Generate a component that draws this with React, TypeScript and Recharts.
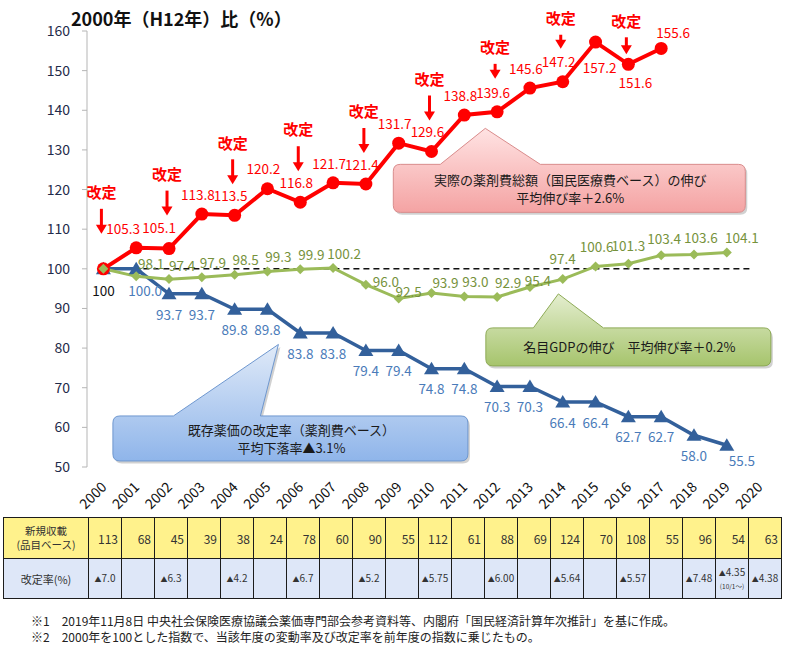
import React from "react";
import { LineChart, Line, XAxis, YAxis, ReferenceLine, ReferenceDot } from "recharts";

// 2000 = 100 index values
const years = [2000, 2001, 2002, 2003, 2004, 2005, 2006, 2007, 2008, 2009, 2010, 2011, 2012, 2013, 2014, 2015, 2016, 2017, 2018, 2019, 2020];
const drugCost = [100, 105.3, 105.1, 113.8, 113.5, 120.2, 116.8, 121.7, 121.4, 131.7, 129.6, 138.8, 139.6, 145.6, 147.2, 157.2, 151.6, 155.6, null, null, null];
const priceIndex = [100, 100.0, 93.7, 93.7, 89.8, 89.8, 83.8, 83.8, 79.4, 79.4, 74.8, 74.8, 70.3, 70.3, 66.4, 66.4, 62.7, 62.7, 58.0, 55.5, null];
const nominalGdp = [100, 98.1, 97.4, 97.9, 98.5, 99.3, 99.9, 100.2, 96.0, 92.5, 93.9, 93.0, 92.9, 95.4, 97.4, 100.6, 101.3, 103.4, 103.6, 104.1, null];
const revisionYears = [2000, 2002, 2004, 2006, 2008, 2010, 2012, 2014, 2016];
const newListings = [113, 68, 45, 39, 38, 24, 78, 60, 90, 55, 112, 61, 88, 69, 124, 70, 108, 55, 96, 54, 63];
const revisionRates = ["7.0", "", "6.3", "", "4.2", "", "6.7", "", "5.2", "", "5.75", "", "6.00", "", "5.64", "", "5.57", "", "7.48", "4.35", "4.38"];
const yTicks = [50, 60, 70, 80, 90, 100, 110, 120, 130, 140, 150, 160];

const data = years.map((year, i) => ({ year, drug: drugCost[i], price: priceIndex[i], gdp: nominalGdp[i] }));
const bandEdges = [...years.map((y) => y - 0.5), years[years.length - 1] + 0.5];

const FONT = '"Noto Sans CJK JP", "Noto Sans", sans-serif';
const RED = "#FF0000";
const BLUE = "#33609B";
const BLUE_TXT = "#4A7BB9";
const GREEN = "#9BBB59";
const GREEN_TXT = "#76923C";

type Off = [number, number];
// label nudges (px) where the original places them off the default spot
const redOff: Record<number, Off> = { 2001: [-13, -19], 2002: [-10, -20], 2015: [4, 26], 2016: [7, 19], 2017: [12, -15] };
const blueOff: Record<number, Off> = { 2000: [0, 22], 2001: [9, 22], 2019: [15, 16] };
const greenOff: Record<number, Off> = {
  2001: [15, -12], 2002: [13, -13], 2008: [20, -2], 2009: [10, -6], 2010: [14, -10], 2013: [8, -6],
  2014: [0, -20], 2015: [1, -19], 2016: [0, -17], 2017: [3, -16], 2018: [7, -16], 2019: [15, -14],
};
const arrowStyle: Record<number, { gap: number; len: number }> = {
  2000: { gap: 35, len: 25 }, 2002: { gap: 33, len: 25 }, 2012: { gap: 33, len: 15 },
  2014: { gap: 33, len: 14 }, 2016: { gap: 10, len: 17 },
};

const fmt = (v: number) => v.toFixed(1);

const label = (x: number, y: number, text: string, color: string) => (
  <text x={x} y={y} dy="0.35em" textAnchor="middle" fontSize={13.5} fill={color} fontFamily={FONT}>
    {text}
  </text>
);

const RedDot = (p: any) => {
  const { cx, cy, index, payload } = p;
  if (cx == null || cy == null || payload?.drug == null) return <g key={`r${index}`} />;
  const o = redOff[payload.year] ?? [-4, -19];
  return (
    <g key={`r${index}`}>
      <circle cx={cx} cy={cy} r={6.5} fill={RED} />
      {payload.year !== 2000 && label(cx + o[0], cy + o[1], fmt(payload.drug), RED)}
    </g>
  );
};

const BlueDot = (p: any) => {
  const { cx, cy, index, payload } = p;
  if (cx == null || cy == null || payload?.price == null) return <g key={`b${index}`} />;
  const o = blueOff[payload.year] ?? [0, 21];
  const first = payload.year === 2000;
  return (
    <g key={`b${index}`}>
      <polygon points={`${cx},${cy - 7} ${cx - 7.5},${cy + 5.5} ${cx + 7.5},${cy + 5.5}`} fill={BLUE} />
      {label(cx + o[0], cy + o[1], first ? "100" : fmt(payload.price), first ? "#111" : BLUE_TXT)}
    </g>
  );
};

const GreenDot = (p: any) => {
  const { cx, cy, index, payload } = p;
  if (cx == null || cy == null || payload?.gdp == null) return <g key={`g${index}`} />;
  const o = greenOff[payload.year] ?? [11, -14];
  return (
    <g key={`g${index}`}>
      <polygon points={`${cx},${cy - 5} ${cx + 5},${cy} ${cx},${cy + 5} ${cx - 5},${cy}`} fill={GREEN} />
      {payload.year !== 2000 && label(cx + o[0], cy + o[1], fmt(payload.gdp), GREEN_TXT)}
    </g>
  );
};

const RevisionArrow = ({ cx, cy, year }: { cx: number; cy: number; year: number }) => {
  const { gap, len } = arrowStyle[year] ?? { gap: 31, len: 25 };
  const x = cx - 2;
  const tip = cy - gap;
  const top = tip - len;
  return (
    <g>
      <line x1={x} y1={top} x2={x} y2={tip - 8} stroke={RED} strokeWidth={3} />
      <polygon points={`${x - 5.5},${tip - 9} ${x + 5.5},${tip - 9} ${x},${tip}`} fill={RED} />
      <text x={x} y={top - 16} dy="0.35em" textAnchor="middle" fontSize={15} fontWeight="bold" fill={RED} fontFamily={FONT}>
        改定
      </text>
    </g>
  );
};

type CalloutSpec = {
  id: string; x: number; y: number; w: number; h: number;
  base: [number, number]; apex: [number, number];
  lines: string[]; top: string; bottom: string; stroke: string;
};

const callouts: CalloutSpec[] = [
  {
    id: "cRed", x: 2014.2, y: 120.3, w: 352, h: 48, base: [-129, -29], apex: [-84, -60],
    lines: ["実際の薬剤費総額（国民医療費ベース）の伸び", "平均伸び率＋2.6%"],
    top: "#FFE3E3", bottom: "#F4A3A3", stroke: "#D98C8C",
  },
  {
    id: "cGreen", x: 2016.0, y: 80.3, w: 285, h: 38, base: [-95, -25], apex: [-70, -53],
    lines: ["名目GDPの伸び　平均伸び率＋0.2%"],
    top: "#E4EECF", bottom: "#A6C46C", stroke: "#8DAA55",
  },
  {
    id: "cBlue", x: 2005.7, y: 57.2, w: 355, h: 45, base: [-117, -30], apex: [-12, -94],
    lines: ["既存薬価の改定率（薬剤費ベース）", "平均下落率▲3.1%"],
    top: "#E0EAF8", bottom: "#8FB5EA", stroke: "#6E97CF",
  },
];

const Callout = ({ cx, cy, s }: { cx: number; cy: number; s: CalloutSpec }) => {
  const L = cx - s.w / 2, R = cx + s.w / 2, T = cy - s.h / 2, B = cy + s.h / 2, r = 7;
  const d = `M${L + r},${T} L${cx + s.base[0]},${T} L${cx + s.apex[0]},${cy + s.apex[1]} L${cx + s.base[1]},${T} L${R - r},${T} Q${R},${T} ${R},${T + r} L${R},${B - r} Q${R},${B} ${R - r},${B} L${L + r},${B} Q${L},${B} ${L},${B - r} L${L},${T + r} Q${L},${T} ${L + r},${T} Z`;
  const n = s.lines.length;
  return (
    <g>
      <defs>
        <linearGradient id={s.id} x1="0" y1="0" x2="0" y2="1">
          <stop offset="0%" stopColor={s.top} />
          <stop offset="100%" stopColor={s.bottom} />
        </linearGradient>
      </defs>
      <path d={d} transform="translate(2,2.5)" fill="rgba(0,0,0,0.18)" />
      <path d={d} fill={`url(#${s.id})`} stroke={s.stroke} strokeWidth={1} />
      {s.lines.map((t, i) => (
        <text key={i} x={cx + 1} y={cy + (i - (n - 1) / 2) * 17.5 + 1} dy="0.35em" textAnchor="middle" fontSize={13} fill="#1a1a1a" fontFamily={FONT}>
          {t}
        </text>
      ))}
    </g>
  );
};

const YearTick = (p: any) => {
  const { x, y, payload } = p;
  const ax = x + 4, ay = y + 21;
  return (
    <text x={ax} y={ay} transform={`rotate(-45 ${ax} ${ay})`} textAnchor="end" fontSize={14} fill="#111" fontFamily={FONT}>
      {payload.value}
    </text>
  );
};

const border = "1.5px solid #1c1c1c";
const cellBase: React.CSSProperties = { border, padding: 0, color: "#333", fontFamily: FONT };

export default function App() {
  return (
    <div style={{ position: "absolute", left: 0, top: 0, width: 788, height: 648, background: "#fff", fontFamily: FONT }}>
      <div style={{ position: "absolute", left: 71, top: 5, fontSize: 18, fontWeight: "bold", color: "#111", whiteSpace: "nowrap" }}>
        2000年（H12年）比（%）
      </div>
      <div style={{ position: "absolute", left: 0, top: 0 }}>
        <LineChart width={788} height={522} data={data} margin={{ top: 31, right: 12, left: 47, bottom: 12 }} style={{ fontFamily: FONT }}>
          <XAxis
            xAxisId="tk" dataKey="year" type="number" domain={[1999.5, 2020.5]} ticks={bandEdges} interval={0}
            height={0} tick={() => <g />} tickSize={5} stroke="#A6A6A6" axisLine={{ stroke: "#A6A6A6" }}
          />
          <XAxis
            xAxisId="yr" dataKey="year" type="number" domain={[1999.5, 2020.5]} ticks={years} interval={0}
            height={43} tickLine={false} axisLine={false} tickSize={0} tickMargin={0} tick={<YearTick />}
          />
          <YAxis
            domain={[50, 160]} ticks={yTicks} interval={0} width={40} tickSize={5} tickMargin={12}
            stroke="#B5B5B5" tick={{ fill: "#1F2B4A", fontSize: 14, fontFamily: FONT }}
          />
          <ReferenceLine
            xAxisId="yr" segment={[{ x: 2000, y: 100 }, { x: 2019.8, y: 100 }]}
            stroke="#111" strokeWidth={1.5} strokeDasharray="6 4" ifOverflow="visible"
          />
          <Line xAxisId="yr" dataKey="price" stroke={BLUE} strokeWidth={3.5} dot={BlueDot} activeDot={false} isAnimationActive={false} />
          <Line xAxisId="yr" dataKey="drug" stroke={RED} strokeWidth={4} dot={RedDot} activeDot={false} isAnimationActive={false} />
          <Line xAxisId="yr" dataKey="gdp" stroke={GREEN} strokeWidth={3} dot={GreenDot} activeDot={false} isAnimationActive={false} />
          {revisionYears.map((yr) => (
            <ReferenceDot
              key={`rev${yr}`} xAxisId="yr" x={yr} y={drugCost[years.indexOf(yr)] as number} r={0} ifOverflow="visible"
              shape={(p: any) => <RevisionArrow cx={p.cx} cy={p.cy} year={yr} />}
            />
          ))}
          {callouts.map((s) => (
            <ReferenceDot
              key={s.id} xAxisId="yr" x={s.x} y={s.y} r={0} ifOverflow="visible"
              shape={(p: any) => <Callout cx={p.cx} cy={p.cy} s={s} />}
            />
          ))}
        </LineChart>
      </div>

      <table style={{ position: "absolute", left: 3, top: 517, borderCollapse: "collapse", tableLayout: "fixed", width: 85 + 21 * 33, background: "#fff" }}>
        <colgroup>
          <col style={{ width: 85 }} />
          {years.map((y) => (
            <col key={y} style={{ width: 33 }} />
          ))}
        </colgroup>
        <tbody>
          <tr style={{ height: 41, background: "#FFF28C" }}>
            <td style={{ ...cellBase, fontSize: 10.5, textAlign: "center", lineHeight: "14px" }}>
              新規収載
              <br />
              (品目ベース)
            </td>
            {newListings.map((n, i) => (
              <td key={i} style={{ ...cellBase, fontSize: 12, textAlign: "right", paddingRight: 3 }}>
                {n}
              </td>
            ))}
          </tr>
          <tr style={{ height: 40, background: "#DEE7F8" }}>
            <td style={{ ...cellBase, fontSize: 11, textAlign: "center" }}>改定率(%)</td>
            {revisionRates.map((r, i) => (
              <td key={i} style={{ ...cellBase, fontSize: 10, textAlign: "center", lineHeight: "11px", whiteSpace: "nowrap" }}>
                {r && (
                  <>
                    <span style={{ fontSize: 7 }}>▲</span>
                    {r}
                    {years[i] === 2019 && (
                      <>
                        <br />
                        <span style={{ fontSize: 6.5 }}>(10/1～)</span>
                      </>
                    )}
                  </>
                )}
              </td>
            ))}
          </tr>
        </tbody>
      </table>

      <div style={{ position: "absolute", left: 31, top: 613, fontSize: 12, lineHeight: "16px", color: "#222", whiteSpace: "nowrap" }}>
        <div>※1　2019年11月8日 中央社会保険医療協議会薬価専門部会参考資料等、内閣府「国民経済計算年次推計」を基に作成。</div>
        <div>※2　2000年を100とした指数で、当該年度の変動率及び改定率を前年度の指数に乗じたもの。</div>
      </div>
    </div>
  );
}
